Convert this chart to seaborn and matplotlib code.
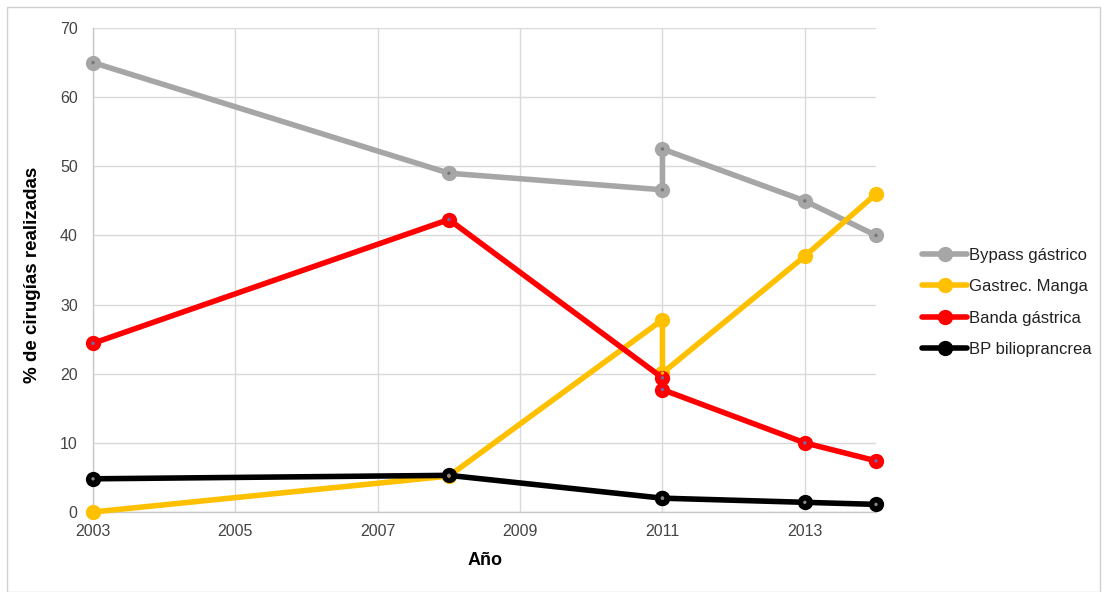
import pandas as pd
import matplotlib.pyplot as plt
import seaborn as sns
from matplotlib.patches import Rectangle
from matplotlib.lines import Line2D

sns.set_theme(style="white")
plt.rcParams['font.family'] = ['Liberation Sans', 'DejaVu Sans']

# data (2011 appears twice in every series)
years = [2003, 2008, 2011, 2011, 2013, 2014]
bypass = [65.0, 49.0, 46.6, 52.5, 45.0, 40.0]
manga = [0.0, 5.2, 27.8, 20.1, 37.0, 46.0]
banda = [24.4, 42.3, 19.4, 17.7, 10.0, 7.4]
bp = [4.8, 5.3, 2.0, 2.0, 1.4, 1.1]

series = ["Bypass gástrico", "Gastrec. Manga", "Banda gástrica", "BP biliopranrea".replace("pranrea", "prancrea")]
colors = ["#a6a6a6", "#ffc000", "#ff0000", "#000000"]
dot_colors = ["#777777", "#ffc000", "#6b6bb0", "#888888"]

rows = []
for name, vals in zip(series, [bypass, manga, banda, bp]):
    for i, (x, y) in enumerate(zip(years, vals)):
        rows.append({"Año": x, "valor": y, "serie": name, "orden": i})
df = pd.DataFrame(rows)

fig = plt.figure(figsize=(11.04, 5.92), dpi=100)
ax = fig.add_axes([93 / 1104, 1 - 512 / 592, (876 - 93) / 1104, (512 - 28) / 592])

sns.lineplot(data=df, x="Año", y="valor", hue="serie", hue_order=series,
             palette=colors, estimator=None, sort=False, units="serie",
             linewidth=4, marker="o", markersize=11, markeredgewidth=0,
             ax=ax, legend=False, clip_on=False, zorder=3)
sns.scatterplot(data=df, x="Año", y="valor", hue="serie", hue_order=series,
                palette=dot_colors, s=6, linewidth=0, ax=ax, legend=False,
                clip_on=False, zorder=4)

ax.set_xlim(2003, 2014)
ax.set_ylim(0, 70)
ax.set_xticks(range(2003, 2014, 2))
ax.set_yticks(range(0, 71, 10))
ax.grid(True, color="#d9d9d9", linewidth=1)
ax.set_axisbelow(True)
for s in ["top", "right"]:
    ax.spines[s].set_visible(False)
for s in ["left", "bottom"]:
    ax.spines[s].set_color("#c8c8c8")
    ax.spines[s].set_linewidth(1)
ax.tick_params(axis="both", colors="#444444", labelsize=11.5, length=0)
ax.tick_params(axis="y", pad=11)
ax.tick_params(axis="x", pad=9)
ax.set_xlabel("Año", fontsize=13, fontweight="bold", color="#000000")
ax.set_ylabel("% de cirugías realizadas", fontsize=13.5, fontweight="bold", color="#000000")
ax.xaxis.set_label_coords(0.5006, -0.083)
ax.yaxis.set_label_coords(-0.066, 0.49)

handles = [Line2D([0], [0], color=c, linewidth=4, marker="o", markersize=11,
                  markeredgewidth=0) for c in colors]
leg = fig.legend(handles, series, loc="upper left", bbox_to_anchor=(922 / 1104, 1 - 248 / 592),
                 frameon=False, fontsize=12, handlelength=2.7, handletextpad=0.1,
                 labelspacing=0.98, borderpad=0, borderaxespad=0, labelcolor="#222222")

fig.patches.append(Rectangle((7 / 1104, 0), 1 - 11 / 1104, 1 - 7 / 592,
                             transform=fig.transFigure, fill=False,
                             edgecolor="#d0d0d0", linewidth=1))

fig.savefig("out.png", dpi=100)
